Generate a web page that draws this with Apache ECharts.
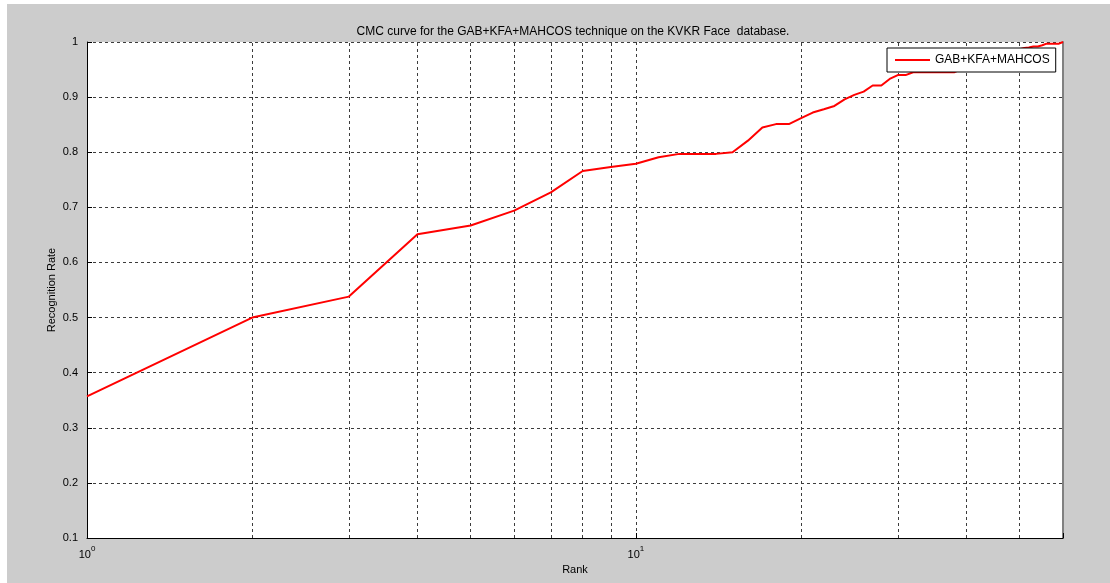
<!DOCTYPE html>
<html>
<head>
<meta charset="utf-8">
<script src="https://cdn.jsdelivr.net/npm/echarts@6/dist/echarts.min.js"></script>
<style>
html, body { margin: 0; padding: 0; background: #fff; }
#chart { position: absolute; left: 7px; top: 4px; width: 1103px; height: 579px; }
</style>
</head>
<body>
<div id="chart"></div>
<script>
let ranks = [1, 2, 3, 4, 5, 6, 7, 8, 9, 10,
	11, 12, 13, 14, 15, 16, 17, 18, 19, 20,
	21, 22, 23, 24, 25, 26, 27, 28, 29, 30,
	31, 32, 33, 34, 35, 36, 37, 38, 39, 40,
	41, 42, 43, 44, 45, 46, 47, 48, 49, 50,
	51, 52, 53, 54, 55, 56, 57, 58, 59, 60];
let rates = [0.357, 0.500, 0.538, 0.651, 0.667, 0.694, 0.727, 0.766, 0.773, 0.779,
	0.791, 0.797, 0.797, 0.797, 0.800, 0.821, 0.845, 0.851, 0.851, 0.862,
	0.872, 0.878, 0.884, 0.896, 0.904, 0.910, 0.921, 0.921, 0.933, 0.940,
	0.940, 0.945, 0.945, 0.945, 0.945, 0.945, 0.945, 0.945, 0.950, 0.954,
	0.958, 0.962, 0.966, 0.970, 0.973, 0.976, 0.979, 0.982, 0.985, 0.987,
	0.989, 0.990, 0.992, 0.992, 0.994, 0.997, 0.997, 0.997, 0.997, 1.000];
// minor log grid lines (matlab draws them, echarts log axis does not)
let minorTicks = [2, 3, 4, 5, 6, 7, 8, 9, 20, 30, 40, 50];

let FONT = 'Liberation Sans, Arial, sans-serif';
let gridStyle = { color: '#3c3c3c', width: 1, type: [3, 3] };

let points = [];
ranks.forEach((r, i) => {
	points.push([r, rates[i]]);
});

let myChart = echarts.init(document.getElementById('chart'));

option = {
	backgroundColor: '#cccccc',
	animation: false,
	graphic: [
		{
			type: 'text',
			x: 566,
			y: 28,
			style: {
				text: 'CMC curve for the GAB+KFA+MAHCOS technique on the KVKR Face  database.',
				font: '12px ' + FONT,
				fill: '#000',
				textAlign: 'center',
				textVerticalAlign: 'middle'
			}
		},
		{
			// y axis title, placed by hand so it sits where matlab put it
			type: 'text',
			x: 45,
			y: 286,
			rotation: Math.PI / 2,
			style: {
				text: 'Recognition Rate',
				font: '11px ' + FONT,
				fill: '#000',
				textAlign: 'center',
				textVerticalAlign: 'middle'
			}
		}
	],
	grid: {
		left: 80,
		top: 38,
		width: 976,
		height: 496,
		show: true,
		backgroundColor: '#fff',
		borderWidth: 0
	},
	legend: {
		left: 880,
		top: 44,
		z: 20,
		padding: [5, 6, 5, 8],
		icon: 'rect',
		itemWidth: 35,
		itemHeight: 2,
		itemGap: 5,
		backgroundColor: '#fff',
		borderColor: '#000',
		borderWidth: 1,
		borderRadius: 0,
		textStyle: { fontSize: 12, color: '#000', fontFamily: FONT, lineHeight: 14 },
		data: ['GAB+KFA+MAHCOS']
	},
	xAxis: {
		type: 'log',
		logBase: 10,
		min: 1,
		max: 60,
		name: 'Rank',
		nameLocation: 'middle',
		nameGap: 25,
		nameTextStyle: { fontSize: 11, color: '#000', fontFamily: FONT },
		axisLine: { show: true, onZero: false, lineStyle: { color: '#000', width: 1 } },
		axisTick: { show: true, inside: true, length: 5, lineStyle: { color: '#000' } },
		axisLabel: {
			margin: 7,
			color: '#000',
			fontFamily: FONT,
			formatter: function (v) {
				if (Math.abs(v - 1) < 1e-6) return '{b|10}{s|0}';
				if (Math.abs(v - 10) < 1e-6) return '{b|10}{s|1}';
				return '';
			},
			rich: {
				b: { fontSize: 11, color: '#000', fontFamily: FONT, verticalAlign: 'bottom' },
				s: { fontSize: 8, color: '#000', fontFamily: FONT, verticalAlign: 'bottom', padding: [0, 0, 7, 0] }
			}
		},
		splitLine: { show: true, lineStyle: gridStyle }
	},
	yAxis: [
		{
			type: 'value',
			min: 0.1,
			max: 1,
			interval: 0.1,
			axisLine: { show: true, lineStyle: { color: '#000', width: 1 } },
			axisTick: { show: true, inside: true, length: 5, lineStyle: { color: '#000' } },
			axisLabel: { margin: 9, fontSize: 11, color: '#000', fontFamily: FONT },
			splitLine: { show: true, lineStyle: gridStyle }
		},
		{
			type: 'value',
			position: 'right',
			min: 0.1,
			max: 1,
			interval: 0.1,
			axisLine: { show: true, lineStyle: { color: '#808080', width: 2 } },
			axisTick: { show: false },
			axisLabel: { show: false },
			splitLine: { show: false }
		}
	],
	series: [
		{
			name: 'GAB+KFA+MAHCOS',
			type: 'line',
			symbol: 'none',
			z: 5,
			lineStyle: { color: '#ff0000', width: 2 },
			itemStyle: { color: '#ff0000' },
			data: points,
			markLine: {
				silent: true,
				symbol: 'none',
				label: { show: false },
				lineStyle: gridStyle,
				z: 1,
				data: minorTicks.map(t => ({ xAxis: t }))
			}
		}
	]
};

myChart.setOption(option);
</script>
</body>
</html>
